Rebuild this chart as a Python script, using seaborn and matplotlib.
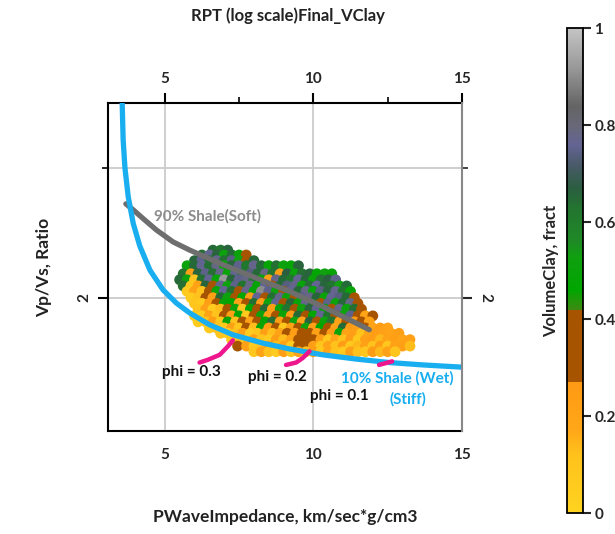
import numpy as np
import pandas as pd
import matplotlib
matplotlib.use("Agg")
import matplotlib.pyplot as plt
import seaborn as sns
from matplotlib.colors import LinearSegmentedColormap, Normalize
from matplotlib.cm import ScalarMappable
from matplotlib.ticker import NullFormatter, FixedLocator

# ---------------------------------------------------------------- data
# Scatter samples grouped in Vp/Vs bands: impedance and clay volume per band
vpvs_bands = [2.32, 2.285, 2.245, 2.21, 2.155, 2.115, 2.075, 2.04, 2.00,
              1.965, 1.93, 1.89, 1.855, 1.82, 1.79, 1.755, 1.72, 1.69]

imp_bands = [
    [6.62, 6.88, 7.12],
    [6.25, 6.5, 6.76, 7.0, 7.26, 7.5, 7.74],
    [6.0, 6.24, 6.5, 6.75, 7.0, 7.25, 7.5, 7.75, 8.0],
    [5.75, 6.0, 6.25, 6.5, 6.75, 7.0, 7.25, 7.5, 7.75, 8.0, 8.25, 8.5, 8.75, 9.0, 9.25, 9.5],
    [5.62, 5.88, 6.12, 6.38, 6.62, 6.88, 7.12, 7.38, 7.62, 7.88, 8.12, 8.38, 8.62, 8.88,
     9.12, 9.38, 9.62, 9.88, 10.12, 10.38, 10.62],
    [5.5, 5.75, 6.0, 6.25, 6.5, 6.75, 7.0, 7.25, 7.5, 7.75, 8.0, 8.25, 8.5, 8.75, 9.0,
     9.25, 9.5, 9.75, 10.0, 10.25, 10.5, 10.75],
    [5.62, 5.88, 6.12, 6.38, 6.62, 6.88, 7.12, 7.38, 7.62, 7.88, 8.12, 8.38, 8.62, 8.88,
     9.12, 9.38, 9.62, 9.88, 10.12, 10.38, 10.62, 10.88, 11.12],
    [5.75, 6.0, 6.25, 6.5, 6.75, 7.0, 7.25, 7.5, 7.75, 8.0, 8.25, 8.5, 8.75, 9.0, 9.25,
     9.5, 9.75, 10.0, 10.25, 10.5, 10.75, 11.0, 11.25],
    [5.88, 6.12, 6.38, 6.62, 6.88, 7.12, 7.38, 7.62, 7.88, 8.12, 8.38, 8.62, 8.88, 9.12,
     9.38, 9.62, 9.88, 10.12, 10.38, 10.62, 10.88, 11.12, 11.38],
    [6.0, 6.25, 6.5, 6.75, 7.0, 7.25, 7.5, 7.75, 8.0, 8.25, 8.5, 8.75, 9.0, 9.25, 9.5,
     9.75, 10.0, 10.25, 10.5, 10.75, 11.0, 11.25, 11.5],
    [6.12, 6.38, 6.62, 6.88, 7.12, 7.38, 7.62, 7.88, 8.12, 8.38, 8.62, 8.88, 9.12, 9.38,
     9.62, 9.88, 10.12, 10.38, 10.62, 10.88, 11.12, 11.38, 11.62],
    [6.0, 6.25, 6.5, 6.75, 7.0, 7.25, 7.5, 7.75, 8.0, 8.25, 8.5, 8.75, 9.0, 9.25, 9.5,
     9.75, 10.0, 10.25, 10.5, 10.75, 11.0, 11.25, 11.5, 11.75, 12.0],
    [6.12, 6.38, 6.62, 6.88, 7.12, 7.38, 7.62, 7.88, 8.12, 8.38, 8.62, 8.88, 9.12, 9.38,
     9.62, 9.88, 10.12, 10.38, 10.62, 10.88, 11.12, 11.38, 11.62, 11.88],
    [6.5, 6.75, 7.0, 7.25, 7.5, 7.75, 8.0, 8.25, 8.5, 8.75, 9.0, 9.25, 9.5, 9.75, 10.0,
     10.25, 10.5, 10.75, 11.0, 11.25, 11.5, 11.75, 12.0, 12.25, 12.5],
    [6.88, 7.12, 7.38, 7.62, 7.88, 8.12, 8.38, 8.62, 8.88, 9.12, 9.38, 9.62, 9.88, 10.12,
     10.38, 10.62, 10.88, 11.12, 11.38, 11.62, 11.88, 12.12, 12.38, 12.62, 12.88],
    [7.25, 7.5, 7.75, 8.0, 8.25, 8.5, 8.75, 9.0, 9.25, 9.5, 9.75, 10.0, 10.25, 10.5, 10.75,
     11.0, 11.25, 11.5, 11.75, 12.0, 12.25, 12.5, 12.75, 13.0, 13.25],
    [7.45, 7.75, 8.0, 8.25, 8.5, 8.75, 9.0, 9.25, 9.5, 9.75, 10.0, 10.25, 10.5, 10.75,
     11.0, 11.25, 11.5, 11.75, 12.0, 12.25, 12.5, 12.75, 13.0, 13.25],
    [8.0, 8.25, 8.5, 8.75, 9.0, 9.25, 9.5, 9.75, 10.0, 10.25, 10.5, 10.75, 11.0, 11.25,
     11.5, 11.75, 12.0, 12.25, 12.5, 12.75],
]

vclay_bands = [
    [0.65, 0.63, 0.66],
    [0.64, 0.76, 0.66, 0.52, 0.65, 0.50, 0.33],
    [0.66, 0.75, 0.63, 0.77, 0.64, 0.74, 0.53, 0.32, 0.65],
    [0.51, 0.65, 0.76, 0.64, 0.78, 0.50, 0.66, 0.75, 0.62, 0.77, 0.65, 0.48, 0.64, 0.52, 0.49, 0.66],
    [0.63, 0.22, 0.66, 0.75, 0.64, 0.77, 0.50, 0.76, 0.62, 0.74, 0.65, 0.78, 0.63, 0.23,
     0.67, 0.51, 0.64, 0.66, 0.47, 0.53, 0.50],
    [0.65, 0.52, 0.10, 0.64, 0.76, 0.49, 0.92, 0.66, 0.75, 0.78, 0.63, 0.51, 0.22, 0.77,
     0.65, 0.62, 0.76, 0.66, 0.50, 0.64, 0.67, 0.75],
    [0.64, 0.08, 0.21, 0.66, 0.34, 0.77, 0.52, 0.75, 0.63, 0.78, 0.49, 0.76, 0.35, 0.65,
     0.74, 0.77, 0.50, 0.64, 0.76, 0.66, 0.63, 0.53, 0.65],
    [0.07, 0.21, 0.11, 0.33, 0.51, 0.76, 0.64, 0.36, 0.77, 0.48, 0.90, 0.75, 0.52, 0.31,
     0.76, 0.65, 0.78, 0.50, 0.74, 0.66, 0.77, 0.63, 0.49],
    [0.06, 0.12, 0.34, 0.22, 0.65, 0.52, 0.32, 0.47, 0.24, 0.76, 0.35, 0.64, 0.77, 0.51,
     0.33, 0.75, 0.78, 0.66, 0.50, 0.76, 0.74, 0.65, 0.36],
    [0.09, 0.05, 0.23, 0.33, 0.50, 0.46, 0.20, 0.35, 0.64, 0.25, 0.53, 0.76, 0.31, 0.66,
     0.49, 0.77, 0.63, 0.34, 0.75, 0.52, 0.65, 0.78, 0.32],
    [0.10, 0.22, 0.06, 0.13, 0.34, 0.51, 0.09, 0.48, 0.33, 0.65, 0.24, 0.50, 0.63, 0.36,
     0.53, 0.66, 0.76, 0.47, 0.32, 0.77, 0.52, 0.64, 0.35],
    [0.08, 0.04, 0.21, 0.11, 0.35, 0.23, 0.49, 0.07, 0.33, 0.52, 0.22, 0.31, 0.50, 0.25,
     0.65, 0.34, 0.47, 0.76, 0.63, 0.36, 0.51, 0.75, 0.33, 0.20, 0.32],
    [0.06, 0.10, 0.24, 0.08, 0.50, 0.12, 0.33, 0.21, 0.35, 0.48, 0.64, 0.23, 0.32, 0.53,
     0.20, 0.66, 0.34, 0.51, 0.63, 0.22, 0.31, 0.25, 0.36, 0.21],
    [0.07, 0.11, 0.05, 0.22, 0.09, 0.34, 0.13, 0.50, 0.24, 0.33, 0.08, 0.21, 0.35, 0.52,
     0.23, 0.47, 0.32, 0.20, 0.65, 0.25, 0.22, 0.34, 0.19, 0.24, 0.21],
    [0.10, 0.06, 0.12, 0.21, 0.04, 0.09, 0.23, 0.13, 0.20, 0.33, 0.24, 0.35, 0.31, 0.22,
     0.34, 0.25, 0.49, 0.21, 0.23, 0.11, 0.20, 0.24, 0.22, 0.19, 0.23],
    [0.08, 0.12, 0.05, 0.22, 0.10, 0.07, 0.24, 0.13, 0.21, 0.34, 0.32, 0.35, 0.23, 0.09,
     0.20, 0.12, 0.25, 0.08, 0.22, 0.24, 0.14, 0.21, 0.23, 0.20, 0.22],
    [0.34, 0.22, 0.06, 0.09, 0.24, 0.13, 0.21, 0.07, 0.33, 0.35, 0.23, 0.10, 0.20, 0.12,
     0.25, 0.08, 0.14, 0.22, 0.11, 0.24, 0.09, 0.21, 0.23, 0.13],
    [0.09, 0.21, 0.12, 0.06, 0.23, 0.10, 0.22, 0.13, 0.24, 0.08, 0.20, 0.11, 0.07, 0.22,
     0.12, 0.09, 0.25, 0.14, 0.21, 0.10],
]

# Rock-physics template lines
wet_imp = [3.567, 3.60, 3.66, 3.77, 3.94, 4.16, 4.50, 4.94, 5.39, 5.84, 6.51, 7.29,
           8.30, 9.19, 10.31, 11.43, 12.55, 13.67, 14.96]
wet_vpvs = [3.67, 3.27, 3.00, 2.74, 2.52, 2.35, 2.18, 2.05, 1.967, 1.907, 1.838, 1.782,
            1.736, 1.705, 1.674, 1.652, 1.634, 1.622, 1.611]

shale_imp = [3.69, 3.94, 4.27, 4.72, 5.28, 5.84, 6.96, 8.08, 9.19, 10.31, 11.21, 11.88]
shale_vpvs = [2.68, 2.63, 2.56, 2.47, 2.38, 2.32, 2.217, 2.126, 2.04, 1.946, 1.867, 1.81]

phi03_imp = [6.17, 6.45, 6.85, 7.12, 7.29]
phi03_vpvs = [1.634, 1.648, 1.674, 1.718, 1.751]
phi02_imp = [9.08, 9.42, 9.64, 9.87]
phi02_vpvs = [1.622, 1.634, 1.657, 1.692]
phi01_imp = [12.21, 12.65]
phi01_vpvs = [1.622, 1.640]

x_ticks = [5, 10, 15]
x_minor = [7.5, 12.5]
cbar_ticks = [0, 0.2, 0.4, 0.6, 0.8, 1]
cbar_labels = ["0", "0.2", "0.4", "0.6", "0.8", "1"]

# ---------------------------------------------------------------- frame
rows = []
for v, imps, cls in zip(vpvs_bands, imp_bands, vclay_bands):
    for i, c in zip(imps, cls):
        rows.append((i, v, c))
pts = pd.DataFrame(rows, columns=["imp", "vpvs", "vclay"])

# ---------------------------------------------------------------- style
sns.set_style("white")
plt.rcParams["font.family"] = ["Lato", "DejaVu Sans"]
plt.rcParams["font.weight"] = "bold"

cmap = LinearSegmentedColormap.from_list("vclay", [
    (0.00, "#FFD320"), (0.12, "#FFC21C"), (0.17, "#FFA718"), (0.269, "#FF9A14"),
    (0.270, "#A65400"), (0.419, "#A65400"), (0.420, "#3E8A12"), (0.46, "#00A600"),
    (0.53, "#10A010"), (0.56, "#1F8A26"), (0.63, "#237430"), (0.67, "#2A5E40"),
    (0.72, "#4A5A6A"), (0.76, "#646494"), (0.80, "#686878"), (0.84, "#646464"),
    (0.92, "#999999"), (1.00, "#C4C4C4")], N=512)
norm = Normalize(0, 1)

fig = plt.figure(figsize=(6.15, 5.34), dpi=100)
ax = fig.add_axes([0.1756, 0.1929, 0.5756, 0.6142])

grid_c = "#CCCCCC"
for xv in [5, 10]:
    ax.axvline(xv, color=grid_c, lw=1.3, zorder=0)
for yv in [2, 3]:
    ax.axhline(yv, color=grid_c, lw=1.3, zorder=0)

sns.scatterplot(data=pts, x="imp", y="vpvs", hue="vclay", palette=cmap,
                hue_norm=norm, s=60, marker="o", linewidth=0, legend=False,
                ax=ax, zorder=2)

sns.lineplot(x=shale_imp, y=shale_vpvs, color="#6E6E6E", lw=3.8, sort=False,
             ax=ax, zorder=3)
sns.lineplot(x=wet_imp, y=wet_vpvs, color="#18AEF0", lw=3.8, sort=False,
             ax=ax, zorder=4)
for xs, ys in [(phi03_imp, phi03_vpvs), (phi02_imp, phi02_vpvs), (phi01_imp, phi01_vpvs)]:
    sns.lineplot(x=xs, y=ys, color="#EE168C", lw=3.2, sort=False, ax=ax, zorder=5)

ax.set_yscale("log")
ax.set_xlim(3.09, 15.0)
ax.set_ylim(1.32, 3.67)

ax.set_xticks(x_ticks)
ax.set_xticks(x_minor, minor=True)
ax.set_xticklabels([str(t) for t in x_ticks], fontsize=11, fontweight="bold")
ax.yaxis.set_major_locator(FixedLocator([2]))
ax.yaxis.set_minor_locator(FixedLocator([3]))
ax.yaxis.set_minor_formatter(NullFormatter())
ax.set_yticklabels(["2"], rotation=90, va="center", fontsize=11, fontweight="bold")
ax.tick_params(axis="both", which="major", direction="out", length=7, width=1.5,
               color="black", top=True, labeltop=True, pad=5)
ax.tick_params(axis="both", which="minor", direction="out", length=4, width=1.2,
               color="black", top=True)
for lab in ax.get_xticklabels():
    lab.set_fontweight("bold")

# right-hand Vp/Vs axis
ax2 = ax.twinx()
ax2.set_yscale("log")
ax2.set_ylim(1.32, 3.67)
ax2.yaxis.set_major_locator(FixedLocator([2]))
ax2.yaxis.set_minor_locator(FixedLocator([3]))
ax2.yaxis.set_minor_formatter(NullFormatter())
ax2.set_yticklabels(["2"], rotation=-90, va="center", fontsize=11, fontweight="bold")
ax2.tick_params(axis="y", which="major", direction="out", length=7, width=1.5, pad=5)
ax2.tick_params(axis="y", which="minor", direction="out", length=4, width=1.2)
for s in ["left", "top", "bottom"]:
    ax2.spines[s].set_visible(False)
ax2.spines["right"].set_color("#888888")
ax2.spines["right"].set_linewidth(1.5)

for s in ["left", "top", "bottom"]:
    ax.spines[s].set_color("black")
    ax.spines[s].set_linewidth(1.5)
ax.spines["right"].set_visible(False)

ax.set_xlabel("")
ax.set_ylabel("")

# annotations
ax.text(4.63, 2.58, "90% Shale(Soft)", color="#8C8C8C", fontsize=11,
        fontweight="bold", ha="left", va="center", zorder=6)
ax.text(5.91, 1.589, "phi = 0.3", color="#111111", fontsize=11, fontweight="bold",
        ha="center", va="center", zorder=6)
ax.text(8.79, 1.563, "phi = 0.2", color="#111111", fontsize=11, fontweight="bold",
        ha="center", va="center", zorder=6)
ax.text(10.87, 1.473, "phi = 0.1", color="#111111", fontsize=11, fontweight="bold",
        ha="center", va="center", zorder=6)
ax.text(12.82, 1.554, "10% Shale (Wet)", color="#18AEF0", fontsize=11,
        fontweight="bold", ha="center", va="center", zorder=6)
ax.text(13.19, 1.455, "(Stiff)", color="#18AEF0", fontsize=11, fontweight="bold",
        ha="center", va="center", zorder=6)

fig.text(0.468, 0.970, "RPT (log scale)Final_VClay", ha="center", va="center",
         fontsize=12, fontweight="bold", color="#222222")
fig.text(0.464, 0.032, "PWaveImpedance, km/sec*g/cm3", ha="center", va="center",
         fontsize=12.5, fontweight="bold", color="#222222")
fig.text(0.072, 0.50, "Vp/Vs, Ratio", ha="center", va="center", rotation=90,
         fontsize=12.5, fontweight="bold", color="#222222")

# colour bar
cax = fig.add_axes([0.922, 0.039, 0.026, 0.908])
sm = ScalarMappable(norm=norm, cmap=cmap)
cb = fig.colorbar(sm, cax=cax, ticks=cbar_ticks)
cb.ax.set_yticklabels(cbar_labels, fontsize=11, fontweight="bold")
cb.ax.tick_params(direction="out", length=6, width=1.5, pad=2)
cb.outline.set_linewidth(1.3)
cb.outline.set_edgecolor("black")
cb.ax.yaxis.set_label_position("left")
cb.set_label("VolumeClay, fract", fontsize=12, fontweight="bold", labelpad=6)

fig.savefig("out.png", dpi=100)
